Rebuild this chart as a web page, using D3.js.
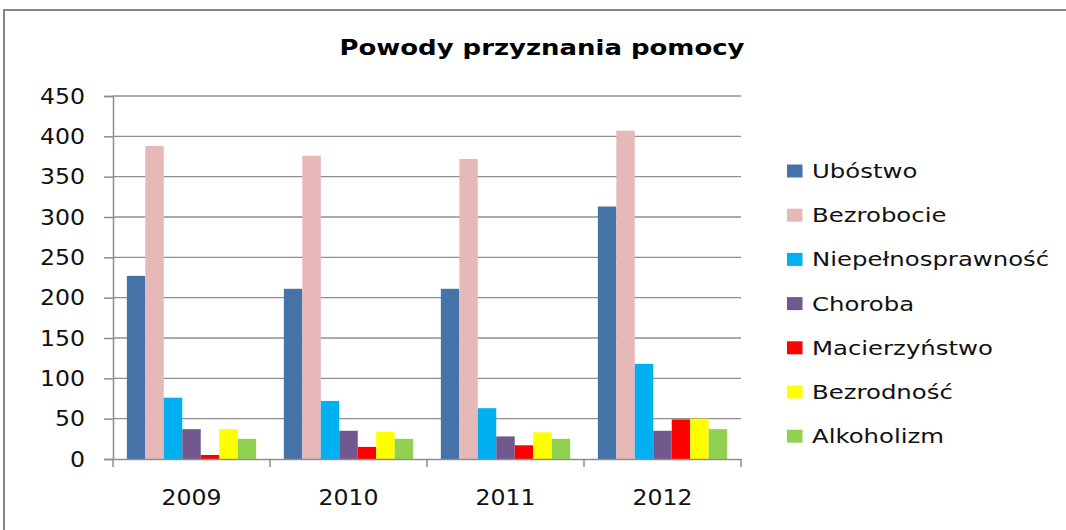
<!DOCTYPE html>
<meta charset="utf-8">
<script src="https://d3js.org/d3.v7.min.js"></script>
<body style="margin:0;background:#fff">
<div id="chart"></div>
</body>
<script>
    // data
    const years = ["2009", "2010", "2011", "2012"];
    const series = ["Ubóstwo", "Bezrobocie", "Niepełnosprawność", "Choroba", "Macierzyństwo", "Bezrodność", "Alkoholizm"];
    const ubostwo = [227, 211, 211, 313];
    const bezrobocie = [388, 376, 372, 407];
    const niepelnosprawnosc = [76, 72, 63, 118];
    const choroba = [37, 35, 28, 35];
    const macierzynstwo = [5, 15, 17, 49];
    const bezrodnosc = [37, 34, 33, 50];
    const alkoholizm = [25, 25, 25, 37];
    const yTicks = [0, 50, 100, 150, 200, 250, 300, 350, 400, 450];
    const colors = ["#4572A7", "#E6B9B8", "#00B0F0", "#71588F", "#FF0000", "#FFFF00", "#92D050"];

    const values = [ubostwo, bezrobocie, niepelnosprawnosc, choroba, macierzynstwo, bezrodnosc, alkoholizm];
    const data = years.map((yr, i) => ({
        year: yr,
        vals: series.map((s, j) => ({ key: s, value: values[j][i] }))
    }));

    const W = 1066, H = 530;
    const svg = d3.select("#chart").append("svg")
        .attr("width", W).attr("height", H)
        .style("font-family", "DejaVu Sans");

    // chart border (only left and top visible in the crop)
    svg.append("path")
        .attr("d", `M4,${H}V10H${W}`)
        .attr("fill", "none").attr("stroke", "#868686").attr("stroke-width", 2);

    const plot = { left: 113, right: 741, top: 96, bottom: 459 };

    const x0 = d3.scaleBand().domain(years).range([plot.left, plot.right]);
    const bw = x0.bandwidth();
    const gap = bw * 0.75 / 8.5;
    const x1 = d3.scaleBand().domain(series).range([gap, bw - gap]);
    const y = d3.scaleLinear().domain([0, 450]).range([plot.bottom, plot.top]);

    // gridlines
    svg.append("g").selectAll("line").data(yTicks.slice(1)).join("line")
        .attr("x1", plot.left).attr("x2", plot.right)
        .attr("y1", d => y(d)).attr("y2", d => y(d))
        .attr("stroke", "#8e8e8e").attr("stroke-width", 1.3);

    // bars
    svg.append("g").selectAll("g").data(data).join("g")
        .attr("transform", d => `translate(${x0(d.year)},0)`)
        .selectAll("rect").data(d => d.vals).join("rect")
        .attr("x", d => x1(d.key))
        .attr("width", x1.bandwidth())
        .attr("y", d => y(d.value))
        .attr("height", d => y(0) - y(d.value))
        .attr("fill", (d, i) => colors[i]);

    // y axis
    const yAxis = svg.append("g")
        .attr("transform", `translate(${plot.left},0)`)
        .call(d3.axisLeft(y).tickValues(yTicks).tickSize(9).tickPadding(0).tickFormat(d3.format("d")));
    yAxis.selectAll("path, line").attr("stroke", "#8e8e8e").attr("stroke-width", 1.5);
    yAxis.selectAll("text").remove();
    svg.append("g").selectAll("text").data(yTicks).join("text")
        .attr("transform", d => `translate(85,${y(d) + 7.5}) scale(1.15,1)`)
        .attr("text-anchor", "end")
        .attr("font-size", 20.5)
        .attr("fill", "#111")
        .text(d => d);

    // x axis
    const xAxis = svg.append("g")
        .attr("transform", `translate(0,${plot.bottom})`)
        .call(d3.axisBottom(x0).tickSize(0).tickFormat(""));
    xAxis.select(".domain").attr("stroke", "#8e8e8e").attr("stroke-width", 1.5);
    const xTickPos = years.map(yr => x0(yr)).concat([plot.right]);
    xAxis.selectAll(".cat-tick").data(xTickPos).join("line")
        .attr("class", "cat-tick")
        .attr("x1", d => d).attr("x2", d => d)
        .attr("y1", 0).attr("y2", 8)
        .attr("stroke", "#8e8e8e").attr("stroke-width", 1.5);
    svg.append("g").selectAll("text").data(years).join("text")
        .attr("transform", d => `translate(${x0(d) + bw / 2},505) scale(1.15,1)`)
        .attr("text-anchor", "middle")
        .attr("font-size", 20.5)
        .attr("fill", "#111")
        .text(d => d);

    // title
    svg.append("text")
        .attr("transform", "translate(542,55) scale(1.18,1)")
        .attr("text-anchor", "middle")
        .attr("font-size", 22)
        .attr("font-weight", "bold")
        .attr("fill", "#000")
        .text("Powody przyznania pomocy");

    // legend
    const legend = svg.append("g").selectAll("g").data(series).join("g")
        .attr("transform", (d, i) => `translate(787,${171 + i * 44.2})`);
    legend.append("rect")
        .attr("y", -6.5)
        .attr("width", 15.5).attr("height", 13)
        .attr("fill", (d, i) => colors[i]);
    legend.append("text")
        .attr("transform", "translate(25,7) scale(1.25,1)")
        .attr("font-size", 19.5)
        .attr("fill", "#111")
        .text(d => d);
</script>
